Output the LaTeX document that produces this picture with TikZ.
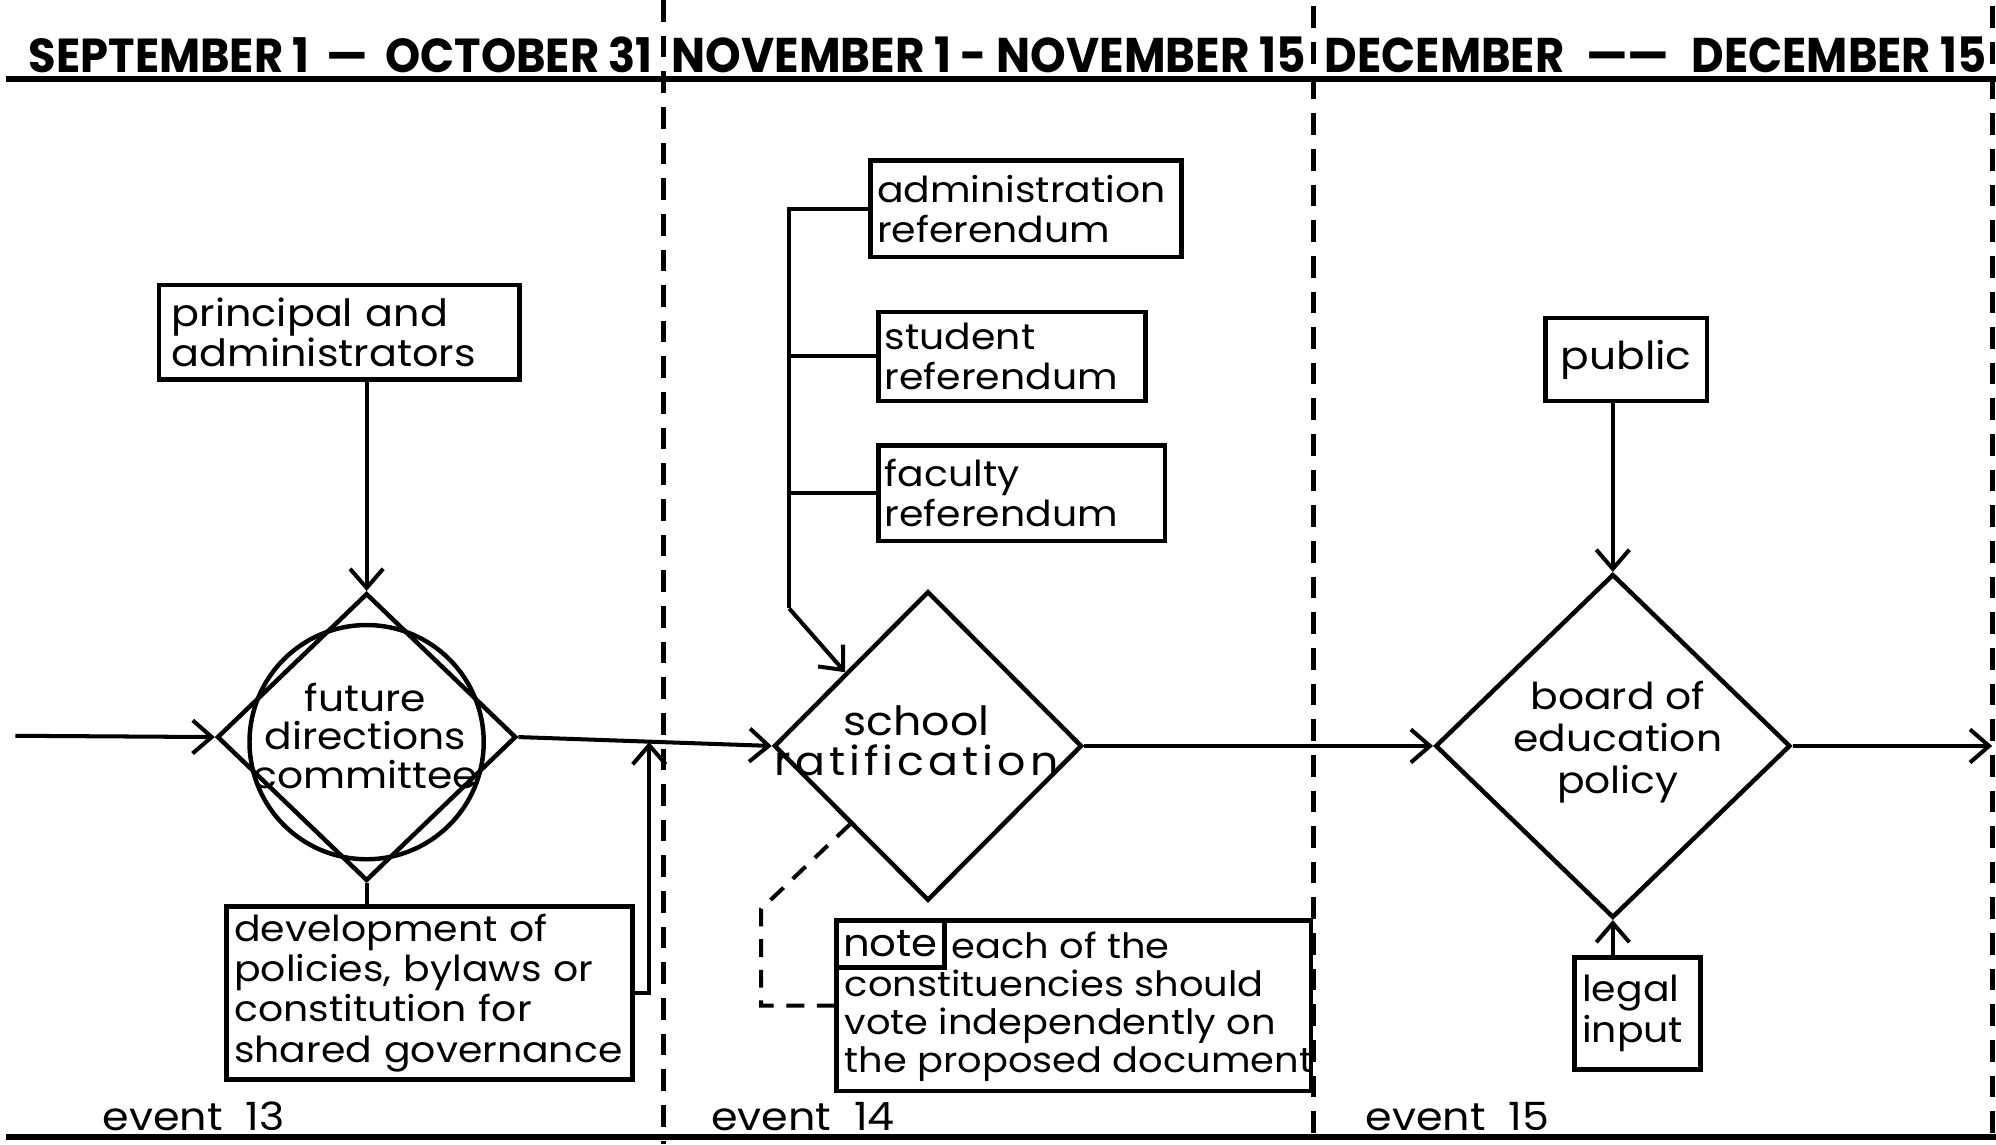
\documentclass[tikz,border=0pt]{standalone}
\usepackage{graphicx}
\usepackage{fontspec}
\setmainfont{Poppins}[FakeStretch=1.1]
\newfontfamily\headfont{Poppins}
\newfontfamily\spacedfont{Poppins}[FakeStretch=1.1, LetterSpace=10]
\usetikzlibrary{shapes.geometric,arrows.meta,calc}
\newcommand\fitbox[3]{\resizebox{#1}{#2}{#3}}
\hyphenpenalty=10000
\exhyphenpenalty=10000
\begin{document}
\begin{tikzpicture}[
  x=0.1mm, y=-0.1mm,
  ln/.style={line width=0.9pt},
  arr/.style={-{Straight Barb[length=1.5mm,width=2.6mm,line width=0.9pt]}},
  box/.style={draw, line width=1pt, align=left, inner xsep=1mm, inner ysep=0pt,
    font=\fontsize{8}{9}\selectfont},
  dia/.style={draw, diamond, line width=1pt, inner sep=0pt},
  diatext/.style={align=center, inner sep=0pt},
  divider/.style={line width=1.2pt, dash pattern=on 1.7mm off 1.1mm},
  rule/.style={line width=1.4pt},
  head/.style={anchor=base west, inner sep=0pt, font=\headfont\bfseries},
  eventlbl/.style={anchor=base west, inner sep=0pt, font=\fontsize{8.7}{10}\selectfont},
]
% page
\path[fill=white, use as bounding box] (0,0) rectangle (1568,899);

% header and footer rules
\coordinate (hl) at (5,62);   \coordinate (hr) at (1568,62);
\coordinate (fl) at (5,893);  \coordinate (fr) at (1568,893);
\draw[rule] (hl) -- (hr);
\draw[rule] (fl) -- (fr);

% period dividers
\coordinate (v1t) at (521,0);   \coordinate (v1b) at (521,899);
\coordinate (v2t) at (1032,5);  \coordinate (v2b) at (1032,899);
\coordinate (v3t) at (1565,5);  \coordinate (v3b) at (1565,899);
\draw[divider] (v1t) -- (v1b);
\draw[divider] (v2t) -- (v2b);
\draw[divider] (v3t) -- (v3b);

% period headings
\node[head] (h1) at (22,57)   {\fitbox{49mm}{2.8mm}{SEPTEMBER 1 \,—\,  OCTOBER 31}};
\node[head] (h2) at (527,57)  {\fitbox{49.8mm}{2.8mm}{NOVEMBER 1 - NOVEMBER 15}};
\node[head] (h3) at (1040,57) {\fitbox{52mm}{2.8mm}{DECEMBER \;——\;  DECEMBER 15}};

% event labels
\node[eventlbl] (e13) at (80,888)   {event\ \ 13};
\node[eventlbl] (e14) at (558,888)  {event\ \ 14};
\node[eventlbl] (e15) at (1072,888) {event\ \ 15};

% ---------- event 13 ----------
\node[box, text width=26.3mm, minimum height=7.4mm, font=\fontsize{8.4}{9}\selectfont] (pa) at (266.5,261)
  {principal and\\administrators};
\node[dia, minimum width=23.5mm, minimum height=22.6mm] (d1) at (288,579) {};
\node[draw, circle, line width=1pt, minimum size=18.4mm, inner sep=0pt] (c1) at (288,583) {};
\node[diatext, font=\fontsize{8.3}{8.6}\selectfont] (d1t) at (287,578)
  {future\\directions\\committee};
\node[box, inner xsep=0.6mm, text width=30.7mm, minimum height=13.6mm] (dev) at (337.5,780)
  {development of\\policies, bylaws or\\constitution for\\shared governance};

\coordinate (in) at (12,578);
\coordinate (m1) at (510,583);
\draw[ln,arr] (in) -- (d1.west);
\draw[ln,arr] (pa.south -| d1.north) -- (d1.north);
\draw[ln] (d1.south) -- (dev.north -| d1.south);

% ---------- event 14 ----------
\node[dia, minimum width=24.2mm, minimum height=24.3mm] (d2) at (729,586) {};
\node[diatext, font=\fontsize{9}{9}\selectfont] (d2t) at (720,582)
  {school\\{\spacedfont ratification}};
\node[box, inner xsep=0.5mm, text width=23.4mm, minimum height=7.6mm] (adm) at (806,164)
  {administration\\referendum};
\node[box, inner xsep=0.5mm, text width=20.0mm, minimum height=7.0mm] (stu) at (795,280)
  {student\\referendum};
\node[box, inner xsep=0.5mm, text width=21.5mm, minimum height=7.5mm] (fac) at (802.5,387.5)
  {faculty\\referendum};

% note
\node[draw, line width=1pt, minimum width=37.3mm, minimum height=13.4mm, inner sep=0pt] (note) at (843.5,790) {};
\node[draw, line width=1pt, anchor=north west, minimum width=8.5mm, minimum height=3.7mm,
  inner sep=0pt, font=\fontsize{8.5}{8.5}\selectfont] (tag) at (note.north west) {note};
\node[anchor=north west, align=left, inner sep=0pt, font=\fontsize{7.8}{8.5}\selectfont] (notet) at (663,731)
  {\hspace*{8.4mm}each of the\\constituencies should\\vote independently on\\the proposed document};

% main flow
\draw[ln,arr] (d1.east) -- (d2.west);
\draw[ln,arr] (dev.east) -| (m1);

% referendum bracket
\coordinate (bend) at (620,478);
\coordinate (hit) at ($(d2.west)!0.47!(d2.north)$);
\draw[ln] (adm.west) -| (bend);
\draw[ln] (stu.west) -- (stu.west -| bend);
\draw[ln] (fac.west) -- (fac.west -| bend);
\draw[ln,arr] (bend) -- (hit);

% dashed note link
\coordinate (np) at ($(d2.west)!0.5!(d2.south)$);
\coordinate (nk1) at (598,714);
\coordinate (nk2) at (598,790);
\draw[ln, dash pattern=on 1.4mm off 1mm] (np) -- (nk1) -- (nk2) -- (note.west);

% ---------- event 15 ----------
\node[dia, minimum width=27.9mm, minimum height=27.0mm] (d3) at (1267,586) {};
\node[diatext, font=\fontsize{8.3}{9.4}\selectfont] (d3t) at (1271,583)
  {board of\\education\\policy};
\node[box, align=center, text width=10.7mm, minimum height=6.5mm, font=\fontsize{8.6}{9}\selectfont] (pub) at (1277.5,282.5) {public};
\node[box, inner xsep=0.6mm, text width=8.7mm, minimum height=8.8mm] (leg) at (1286.5,796) {legal\\input};

\coordinate (out) at (1565,586);
\draw[ln,arr] (d2.east) -- (d3.west);
\draw[ln,arr] (d3.east) -- (out);
\draw[ln,arr] (pub.south -| d3.north) -- (d3.north);
\draw[ln,arr] (leg.north -| d3.south) -- (d3.south);
\end{tikzpicture}
\end{document}
